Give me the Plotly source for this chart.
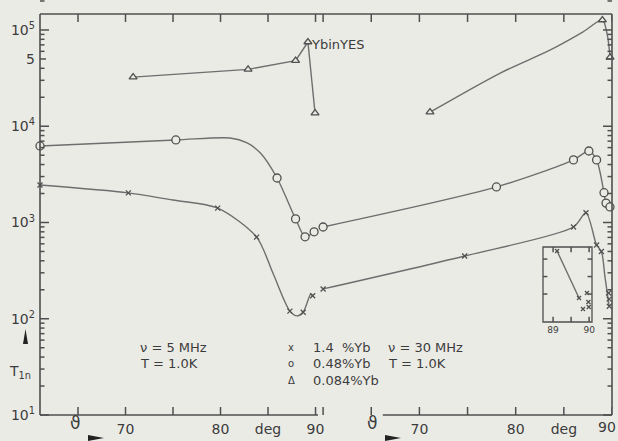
import math
import plotly.graph_objects as go

# ---------------- data ----------------
# left panel: nu = 5 MHz, T = 1.0 K
L_x_deg = [61.0, 70.3, 79.7, 83.8, 87.3, 88.7, 89.7]
L_x_T = [2450, 2030, 1410, 705, 120, 117, 173]
L_x_curve_deg = [61.0, 70.3, 75.0, 79.7, 83.8, 85.5, 87.3, 88.05, 88.7, 89.5, 89.7]
L_x_curve_T = [2450, 2030, 1710, 1410, 705, 300, 120, 107, 117, 181, 173]

L_o_deg = [61.0, 75.3, 85.95, 87.9, 88.9, 89.85]
L_o_T = [6240, 7200, 2900, 1090, 710, 800]
L_o_curve_deg = [61.0, 75.3, 81.0, 82.8, 84.2, 85.95, 87.9, 88.9, 89.85]
L_o_curve_T = [6240, 7200, 7550, 6700, 5270, 2900, 1090, 710, 800]

L_t_deg = [70.8, 82.9, 87.9, 89.2, 89.95]
L_t_T = [32400, 39000, 48000, 75000, 13700]

# right panel: nu = 30 MHz, T = 1.0 K
R_x_deg = [60.0, 74.7, 86.0, 87.3, 88.4, 88.9, 89.65, 89.7, 89.72]
R_x_T = [204, 449, 898, 1260, 583, 500, 185, 160, 135]
R_x_curve_deg = [60.0, 74.7, 86.0, 87.3, 88.4, 88.9, 89.27, 89.7]
R_x_curve_T = [204, 449, 898, 1260, 583, 500, 272, 135]

R_o_deg = [60.0, 78.0, 86.0, 87.6, 88.4, 89.17, 89.38, 89.79]
R_o_T = [898, 2340, 4470, 5530, 4470, 2040, 1590, 1450]

R_t_deg = [71.1, 89.0, 89.8]
R_t_T = [14000, 127000, 52000]
R_t_curve_deg = [71.1, 78.4, 83.6, 87.0, 89.0, 89.5, 89.8]
R_t_curve_T = [14000, 35700, 62000, 95500, 127000, 90000, 52000]

# inset (right panel, 89..90 deg)
I_deg = [89.11, 89.72, 89.83, 89.94, 89.98, 89.99]
I_T = [446, 177, 114, 206, 154, 126]
I_curve_deg = [89.11, 89.72]
I_curve_T = [446, 177]

y_tickvals = [10, 100, 1000, 10000, 50000, 100000]
y_ticktext = ["10<sup>1</sup>", "10<sup>2</sup>", "10<sup>3</sup>", "10<sup>4</sup>", "5", "10<sup>5</sup>"]
y_minor = [m * 10 ** k for k in range(1, 6) for m in range(2, 10) if m * 10 ** k != 50000]
x_tickvals_L = [70, 80, 85, 90]
x_ticktext_L = ["70", "80", "deg", "90"]
x_tickvals_R = [70, 80, 85]
x_ticktext_R = ["70", "80", "deg"]
x_allticks_L = [65, 70, 75, 80, 85, 90]
x_allticks_R = [60, 65, 70, 75, 80, 85, 90]
inset_xticks = [89, 89.5, 90]
inset_yticks = [200, 300, 400]
legend_symbols = ["x", "o", "\u0394"]
legend_labels = ["1.4  %Yb", "0.48%Yb", "0.084%Yb"]

# ---------------- style ----------------
BG = "#ebebe6"
LINE = "#6e6e6e"
AX = "#4f4f4f"
TXT = "#3c3c3c"
FONT = "DejaVu Sans"

W, H = 618, 441
ML, MR, MT, MB = 40, 6, 14, 26
PW, PH = W - ML - MR, H - MT - MB


def px(x):
    return (x - ML) / PW


def py(y):
    return (H - MB - y) / PH


fig = go.Figure()


def curve(xs, ys, xa, ya, shape="spline"):
    fig.add_trace(go.Scatter(x=xs, y=ys, mode="lines", xaxis=xa, yaxis=ya,
                             line=dict(color=LINE, width=1.4, shape=shape, smoothing=0.8),
                             showlegend=False, hoverinfo="skip", cliponaxis=False))


def marks(xs, ys, xa, ya, sym, size):
    fig.add_trace(go.Scatter(x=xs, y=ys, mode="markers", xaxis=xa, yaxis=ya,
                             marker=dict(symbol=sym, size=size, color=BG,
                                         line=dict(color="#505050", width=1.3)),
                             showlegend=False, cliponaxis=False))


# left panel
curve(L_o_curve_deg, L_o_curve_T, "x", "y")
curve(L_x_curve_deg, L_x_curve_T, "x", "y")
curve(L_t_deg, L_t_T, "x", "y", shape="linear")
marks(L_o_deg, L_o_T, "x", "y", "circle", 8)
marks(L_x_deg, L_x_T, "x", "y", "x-thin", 5)
marks(L_t_deg, L_t_T, "x", "y", "triangle-up", 7)
# right panel
curve(R_o_deg, R_o_T, "x2", "y2")
curve(R_x_curve_deg, R_x_curve_T, "x2", "y2")
curve(R_t_curve_deg, R_t_curve_T, "x2", "y2")
marks(R_o_deg, R_o_T, "x2", "y2", "circle", 8)
marks(R_x_deg, R_x_T, "x2", "y2", "x-thin", 5)
marks(R_t_deg, R_t_T, "x2", "y2", "triangle-up", 7)
# inset
curve(I_curve_deg, I_curve_T, "x3", "y3", shape="linear")
marks(I_deg, I_T, "x3", "y3", "x-thin", 4)

YR = [1.0, 5.166]
XR_L = [61.0, 90.26]
XR_R = [59.47, 90.0]
IXR = [88.72, 90.08]
IYR = [40, 469]
dsplit = px(318)


def ax(**kw):
    d = dict(ticks="", showgrid=False, zeroline=False, automargin=False, showline=False,
             fixedrange=True, ticklabelstandoff=4)
    d.update(kw)
    return d


fig.update_layout(
    width=W, height=H, margin=dict(l=ML, r=MR, t=MT, b=MB, autoexpand=False),
    paper_bgcolor=BG, plot_bgcolor=BG, showlegend=False,
    font=dict(family=FONT, color=TXT),
    xaxis=ax(domain=[0, dsplit], range=XR_L, anchor="y",
             tickvals=x_tickvals_L, ticktext=x_ticktext_L,
             tickfont=dict(family=FONT, size=14, color=TXT)),
    xaxis2=ax(domain=[dsplit, 1], range=XR_R, anchor="y2",
              tickvals=x_tickvals_R, ticktext=x_ticktext_R,
              tickfont=dict(family=FONT, size=14, color=TXT)),
    yaxis=ax(domain=[0, 1], type="log", range=YR, anchor="x", side="left",
             tickvals=y_tickvals, ticktext=y_ticktext,
             tickfont=dict(family=FONT, size=14, color=TXT)),
    yaxis2=ax(domain=[0, 1], type="log", range=YR, anchor="x2", side="right",
              showticklabels=False),
    xaxis3=ax(domain=[px(543), px(592)], range=IXR, anchor="y3",
              tickvals=[89, 90], ticktext=["89", "90"], ticklabelstandoff=1,
              tickfont=dict(family=FONT, size=9, color=TXT)),
    yaxis3=ax(domain=[py(322), py(247)], range=IYR, anchor="x3", showticklabels=False),
)

frame = dict(color=AX, width=1.6)
tick = dict(color=AX, width=1.5)


def seg(x0, y0, x1, y1, style, xref="paper", yref="paper"):
    fig.add_shape(type="line", xref=xref, yref=yref, x0=x0, y0=y0, x1=x1, y1=y1, line=style)


# main frame: left, right, top, bottom (right panel bottom is partial)
seg(0, 0, 0, 1, frame)
seg(1, 0, 1, 1, frame)
seg(0, 1, 1, 1, frame)
seg(0, 0, 1, 0, frame, xref="x domain")
seg(66.2, 0, 90, 0, frame, xref="x2")


# y ticks (log axis -> fraction of the plot height)
def yfrac(v):
    return (math.log10(v) - YR[0]) / (YR[1] - YR[0])


for v in y_tickvals:
    ln = (6 if v == 50000 else 9) / PW
    seg(0, yfrac(v), ln, yfrac(v), tick)
    seg(1, yfrac(v), 1 - ln, yfrac(v), tick)
for v in y_minor:
    seg(0, yfrac(v), 4.5 / PW, yfrac(v), tick)
    seg(1, yfrac(v), 1 - 4.5 / PW, yfrac(v), tick)

# x ticks, bottom and top
tl = 8 / PH
for v in x_allticks_L:
    seg(v, 0, v, tl, tick, xref="x")
    seg(v, 1, v, 1 - tl, tick, xref="x")
for v in x_allticks_R:
    seg(v, 0, v, tl, tick, xref="x2")
    seg(v, 1, v, 1 - tl, tick, xref="x2")

# inset frame and ticks
iframe = dict(color=AX, width=1.3)
fig.add_shape(type="rect", xref="x3 domain", yref="y3 domain", x0=0, x1=1, y0=0, y1=1,
              line=iframe)
for v in inset_xticks:
    seg(v, 0, v, 0.07, tick, xref="x3", yref="y3 domain")
    seg(v, 1, v, 0.93, tick, xref="x3", yref="y3 domain")
for v in inset_yticks:
    seg(0, v, 0.09, v, tick, xref="x3 domain", yref="y3")
    seg(1, v, 0.91, v, tick, xref="x3 domain", yref="y3")

# arrows
fig.add_shape(type="path", xref="paper", yref="paper",
              path=f"M {px(25.5)},{py(329)} L {px(23)},{py(344)} L {px(28)},{py(344)} Z",
              fillcolor="#222", line=dict(width=0))
for x0 in (88, 385):
    fig.add_shape(type="path", xref="paper", yref="paper",
                  path=f"M {px(x0)},{py(435)} L {px(x0 + 16)},{py(438)} L {px(x0)},{py(441)} Z",
                  fillcolor="#222", line=dict(width=0))


def text(x, y, s, size=14, anchor="left"):
    fig.add_annotation(x=px(x), y=py(y), xref="paper", yref="paper", text=s, showarrow=False,
                       xanchor=anchor, yanchor="middle", font=dict(family=FONT, size=size, color=TXT))


text(138, 347, "\u03bd = 5 MHz", 13)
text(138, 363, "T = 1.0K", 13)
text(386, 347, "\u03bd = 30 MHz", 13)
text(386, 363, "T = 1.0K", 13)
text(309, 44, "YbinYES", 13)
for i, (sym, lab) in enumerate(zip(legend_symbols, legend_labels)):
    yy = 347 + i * 16.5
    text(291, yy, sym, 10, "center")
    text(311, yy, lab, 13)
text(20, 372, "T<sub>1n</sub>", 14, "center")
text(75, 423, "\u03d1", 17, "center")
text(372, 423, "\u03d1", 17, "center")
text(618, 427, "90", 14, "right")

fig.write_html("out.html", config={"displayModeBar": False},
               post_script="document.body.style.margin='0px';")
